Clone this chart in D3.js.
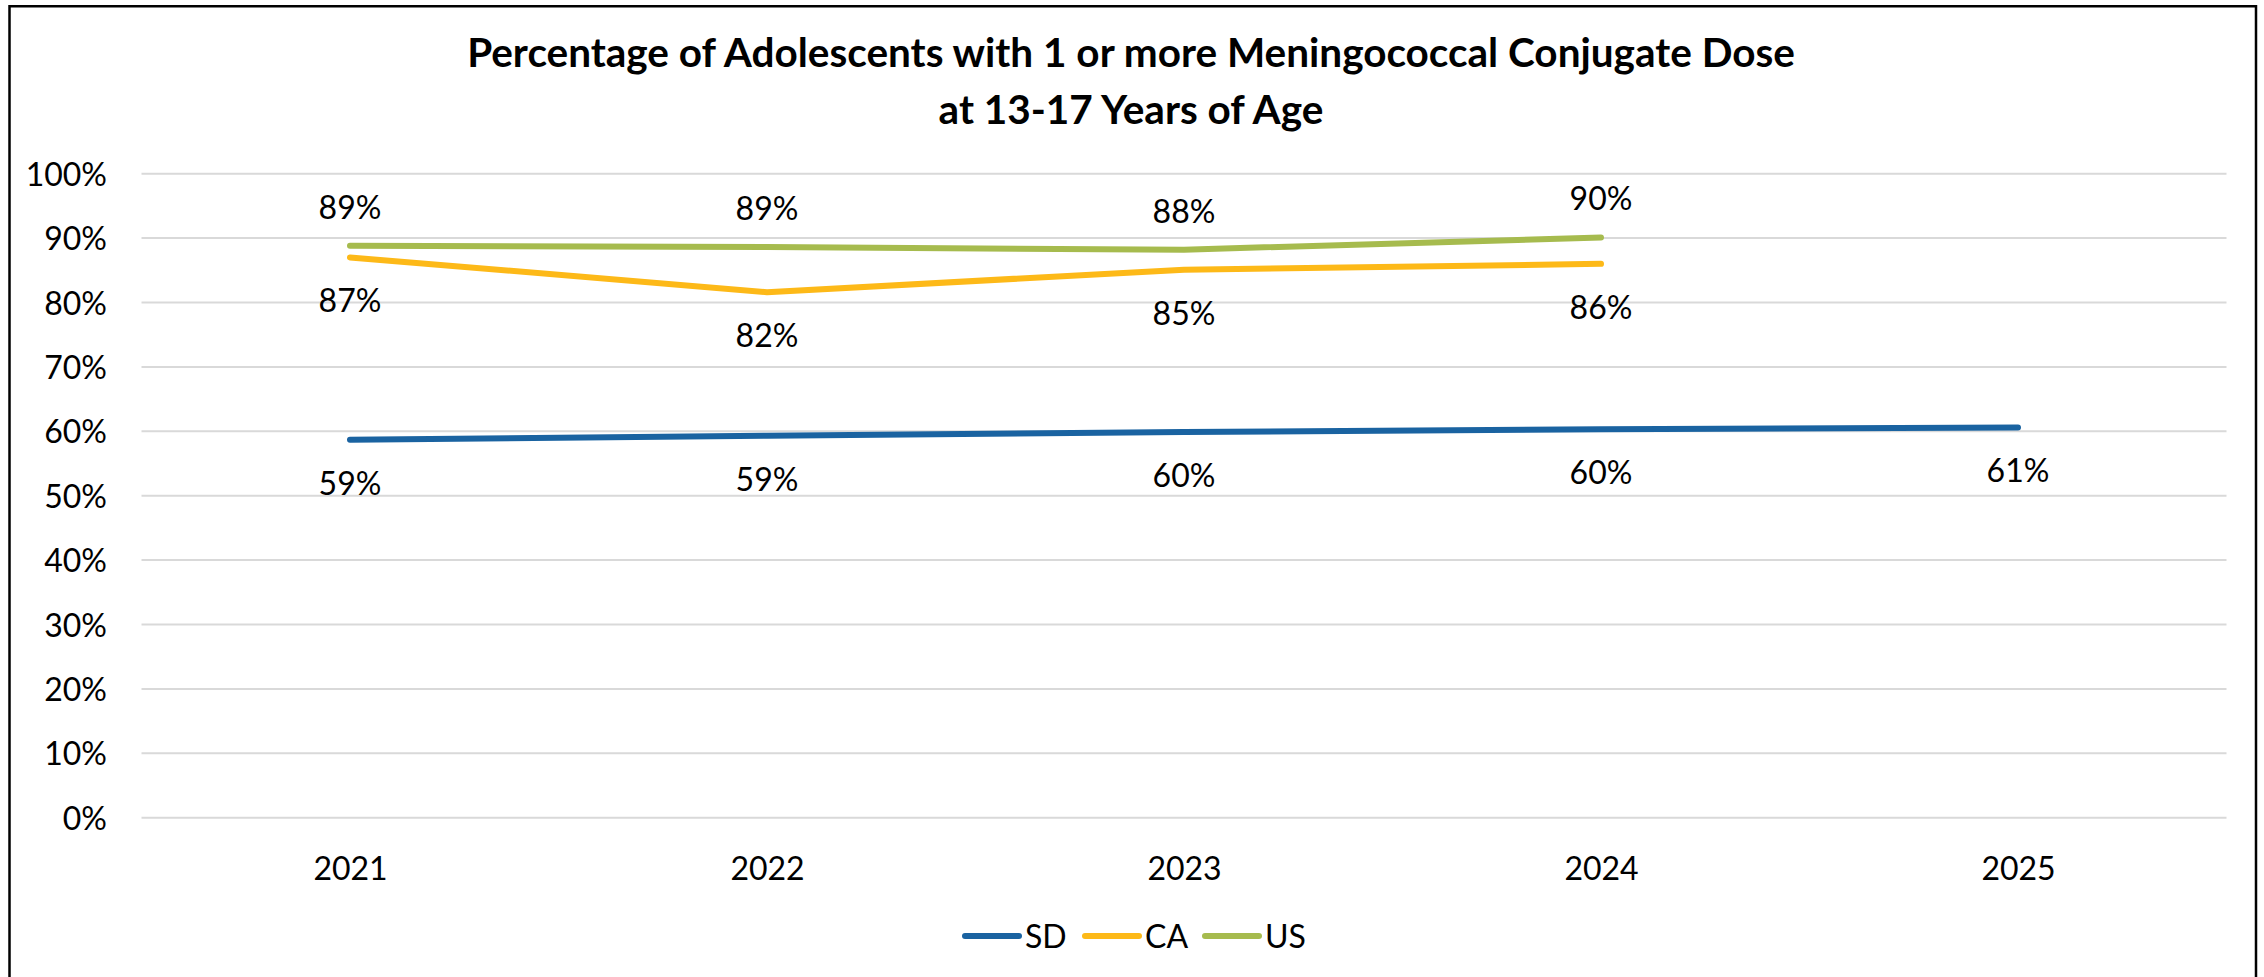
<!DOCTYPE html>
<html>
<head>
<meta charset="utf-8">
<script src="https://cdn.jsdelivr.net/npm/d3@7"></script>
<style>
  html, body { margin: 0; padding: 0; background: #fff; }
  svg { display: block; }
  text { font-family: Lato, "Open Sans", "Liberation Sans", sans-serif; fill: #000; }
</style>
</head>
<body>
<svg id="chart" width="2264" height="977"></svg>
<script>
const years = ['2021', '2022', '2023', '2024', '2025'];
const seriesNames = ['SD', 'CA', 'US'];
const sdValues = [58.7, 59.3, 59.9, 60.3, 60.6];
const caValues = [87.0, 81.6, 85.1, 86.0, null];
const usValues = [88.8, 88.6, 88.2, 90.1, null];
const yTicks = [0, 10, 20, 30, 40, 50, 60, 70, 80, 90, 100];
const titleLines = ['Percentage of Adolescents with 1 or more Meningococcal Conjugate Dose', 'at 13-17 Years of Age'];

const colors = { SD: '#1A63A1', CA: '#FDB918', US: '#A6BB4E' };
const labelPos = { SD: 'below', CA: 'below', US: 'above' };
const seriesValues = { SD: sdValues, CA: caValues, US: usValues };

const W = 2264, H = 977;
const plot = { left: 141.5, right: 2226.5, top: 173.7, bottom: 817.7 };

const svg = d3.select('#chart');

// frame
svg.append('path')
  .attr('d', `M9.5,${H + 5} V6.2 H2256 V${H + 5}`)
  .attr('fill', 'none').attr('stroke', '#000').attr('stroke-width', 2.5);

const x = d3.scalePoint().domain(years).range([plot.left, plot.right]).padding(0.5);
const y = d3.scaleLinear().domain([0, 100]).range([plot.bottom, plot.top]);

// gridlines
svg.append('g').selectAll('line').data(yTicks).join('line')
  .attr('x1', plot.left).attr('x2', plot.right)
  .attr('y1', d => y(d)).attr('y2', d => y(d))
  .attr('stroke', '#D9D9D9').attr('stroke-width', 2);

// y axis
const yAxis = d3.axisLeft(y).tickValues(yTicks).tickFormat(d => d + '%').tickSize(0).tickPadding(0);
const yg = svg.append('g').attr('transform', `translate(107,0)`).call(yAxis);
yg.select('.domain').remove();
yg.selectAll('text').attr('font-size', 32).attr('font-family', 'Lato').attr('fill', '#000').attr('dy', '0.36em');

// x axis
const xAxis = d3.axisBottom(x).tickSize(0).tickPadding(0);
const xg = svg.append('g').attr('transform', `translate(0,880)`).call(xAxis);
xg.select('.domain').remove();
xg.selectAll('text').attr('font-size', 32).attr('font-family', 'Lato').attr('fill', '#000').attr('dy', 0);

// lines
const line = d3.line()
  .defined(d => d.v != null)
  .x(d => x(d.year)).y(d => y(d.v));

seriesNames.forEach(name => {
  const pts = years.map((yr, i) => ({ year: yr, v: seriesValues[name][i] }));
  svg.append('path').datum(pts)
    .attr('d', line)
    .attr('fill', 'none')
    .attr('stroke', colors[name])
    .attr('stroke-width', 6)
    .attr('stroke-linecap', 'round')
    .attr('stroke-linejoin', 'round');
});

// data labels
const fmt = v => Math.round(v) + '%';
seriesNames.forEach(name => {
  const pts = years.map((yr, i) => ({ year: yr, v: seriesValues[name][i] })).filter(d => d.v != null);
  svg.append('g').selectAll('text').data(pts).join('text')
    .attr('x', d => x(d.year))
    .attr('y', d => labelPos[name] === 'above' ? y(d.v) - 27 : y(d.v) + 55)
    .attr('text-anchor', 'middle')
    .attr('font-size', 32)
    .text(d => fmt(d.v));
});

// title
svg.append('g').selectAll('text').data(titleLines).join('text')
  .attr('x', 1131)
  .attr('y', (d, i) => i === 0 ? 67 : 124)
  .attr('text-anchor', 'middle')
  .attr('font-size', 40.5)
  .attr('font-weight', 'bold')
  .text(d => d);

// legend
const legendX = { SD: 965, CA: 1085, US: 1205 };
const lg = svg.append('g');
seriesNames.forEach(name => {
  lg.append('line')
    .attr('x1', legendX[name]).attr('x2', legendX[name] + 54)
    .attr('y1', 936).attr('y2', 936)
    .attr('stroke', colors[name]).attr('stroke-width', 6).attr('stroke-linecap', 'round');
  lg.append('text')
    .attr('x', legendX[name] + 60).attr('y', 948)
    .attr('font-size', 32)
    .text(name);
});
</script>
</body>
</html>
